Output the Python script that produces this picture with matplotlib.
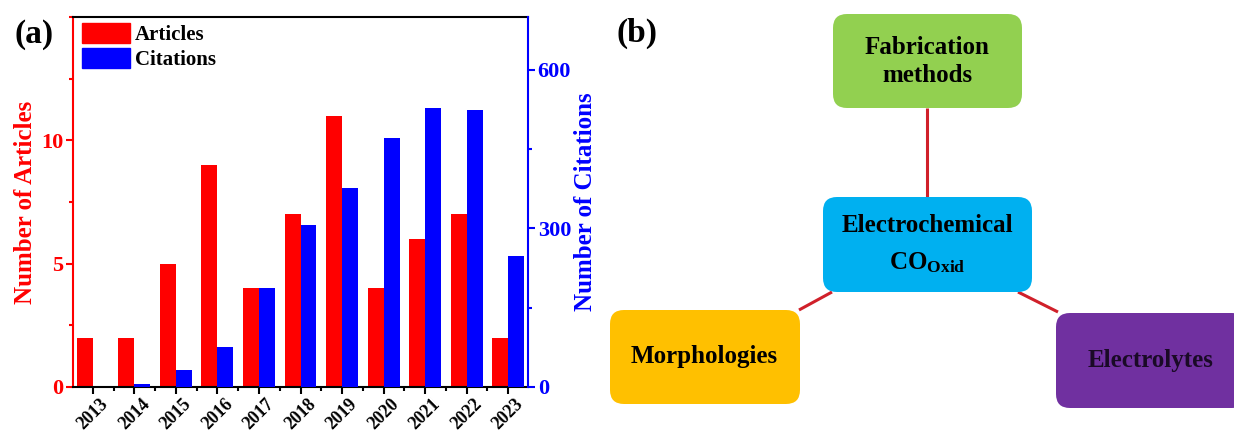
import matplotlib
matplotlib.use("Agg")
import matplotlib.pyplot as plt
from matplotlib.patches import FancyBboxPatch, Patch
from matplotlib.ticker import MultipleLocator
import numpy as np

# === DATA ===
years = ['2013', '2014', '2015', '2016', '2017', '2018',
         '2019', '2020', '2021', '2022', '2023']
articles = [2, 2, 5, 9, 4, 7, 11, 4, 6, 7, 2]
citations = [0, 5, 32, 76, 188, 306, 377, 472, 528, 525, 247]

node_labels = ['Fabrication\nmethods', 'Electrochemical\nCO$_{\\mathregular{Oxid}}$',
               'Morphologies', 'Electrolytes']

# === STYLE ===
plt.rcParams['font.family'] = ['Liberation Serif', 'DejaVu Serif']
plt.rcParams['font.weight'] = 'bold'
plt.rcParams['mathtext.fontset'] = 'custom'
plt.rcParams['mathtext.rm'] = 'Liberation Serif:bold'
plt.rcParams['mathtext.it'] = 'Liberation Serif:bold'
plt.rcParams['mathtext.bf'] = 'Liberation Serif:bold'

W, H = 1234, 441
fig = plt.figure(figsize=(W / 100, H / 100), dpi=100)

# === Panel (a): bar chart with twin axes
ax = fig.add_axes([73 / W, 54 / H, 455 / W, 370 / H])
ax2 = ax.twinx()

x = np.arange(len(years))
bw = 0.385
ax.bar(x - bw / 2, articles, width=bw, color='#ff0000', zorder=2)
ax2.bar(x + bw / 2, citations, width=bw, color='#0000ff', zorder=2)

ax.set_xlim(-0.476, len(years) - 1 + 0.476)
ax.set_ylim(0, 15)
ax2.set_ylim(0, 700)

ax.set_xticks(x)
ax.set_xticklabels(years, rotation=45, ha='center', fontsize=13, fontweight='bold')
ax.xaxis.set_minor_locator(MultipleLocator(1, offset=0.5))
ax.tick_params(axis='x', which='major', direction='out', length=5, width=1.5, pad=1)
ax.tick_params(axis='x', which='minor', direction='out', length=3, width=1.5)

ax.set_yticks([0, 5, 10])
ax.yaxis.set_minor_locator(MultipleLocator(2.5))
ax.tick_params(axis='y', which='major', colors='#ff0000', direction='out',
               length=5, width=1.5, labelsize=16, pad=2)
ax.tick_params(axis='y', which='minor', colors='#ff0000', direction='out',
               length=3, width=1.5)

ax2.set_yticks([0, 300, 600])
ax2.yaxis.set_minor_locator(MultipleLocator(150))
ax2.tick_params(axis='y', which='major', colors='#0000ff', direction='out',
                length=5, width=1.5, labelsize=16, pad=2)
ax2.tick_params(axis='y', which='minor', colors='#0000ff', direction='out',
                length=3, width=1.5)
for lab in ax.get_yticklabels() + ax2.get_yticklabels():
    lab.set_fontweight('bold')

ax.set_ylabel('Number of Articles', color='#ff0000', fontsize=18,
              fontweight='bold', labelpad=3)
ax2.set_ylabel('Number of Citations', color='#0000ff', fontsize=18,
               fontweight='bold', labelpad=2)

ax.spines['left'].set_color('#ff0000')
ax.spines['right'].set_visible(False)
ax2.spines['left'].set_visible(False)
ax2.spines['right'].set_color('#0000ff')
ax2.spines['top'].set_visible(False)
ax2.spines['bottom'].set_visible(False)
for s in ['left', 'top', 'bottom']:
    ax.spines[s].set_linewidth(1.5)
ax2.spines['right'].set_linewidth(1.5)

handles = [Patch(facecolor='#ff0000', edgecolor='#ff0000', label='Articles'),
           Patch(facecolor='#0000ff', edgecolor='#0000ff', label='Citations')]
ax2.legend(handles=handles, loc='upper left', bbox_to_anchor=(0.02, 0.985),
           frameon=False, fontsize=15, handlelength=2.3, handleheight=1.1,
           handletextpad=0.25, labelspacing=0.15, borderpad=0, borderaxespad=0,
           prop={'weight': 'bold', 'size': 15})

fig.text(14 / W, 1 - 34 / H, '(a)', fontsize=24, fontweight='bold', va='center', ha='left')
fig.text(616 / W, 1 - 33 / H, '(b)', fontsize=24, fontweight='bold', va='center', ha='left')

# === Panel (b): concept diagram in pixel coordinates
axb = fig.add_axes([0, 0, 1, 1], zorder=-1)
axb.set_xlim(0, W)
axb.set_ylim(H, 0)
axb.axis('off')

box_colors = ['#92d050', '#00b0f0', '#ffc000', '#7030a0']
box_rects = [(833, 14, 189, 94), (823, 197, 209, 95),
             (610, 310, 190, 94), (1056, 313, 190, 95)]
line_color = '#d0202a'
links = [((927, 108), (927, 197)),
         ((832, 292), (799, 310)),
         ((1018, 292), (1058, 312))]

for (p0, p1) in links:
    axb.plot([p0[0], p1[0]], [p0[1], p1[1]], color=line_color, lw=2.2,
             solid_capstyle='butt', zorder=1)

for (bx, by, bw_, bh), col in zip(box_rects, box_colors):
    axb.add_patch(FancyBboxPatch((bx + 14, by + 14), bw_ - 28, bh - 28,
                                 boxstyle='round,pad=14', facecolor=col,
                                 edgecolor='none', zorder=2))

# texts
axb.text(927, 47, 'Fabrication', fontsize=18, fontweight='bold', ha='center', va='center', zorder=3)
axb.text(927, 76, 'methods', fontsize=18, fontweight='bold', ha='center', va='center', zorder=3)
el, co = node_labels[1].split('\n')
axb.text(927, 226, el, fontsize=18, fontweight='bold', ha='center', va='center', zorder=3)
axb.text(927, 263, co, fontsize=18, fontweight='bold', ha='center', va='center', zorder=3)
axb.text(704, 357, node_labels[2], fontsize=18, fontweight='bold', ha='center', va='center', zorder=3)
axb.text(1151, 361, node_labels[3], fontsize=18, fontweight='bold', ha='center', va='center',
         color='#1a0a26', zorder=3)

fig.savefig('out.png', dpi=100)
